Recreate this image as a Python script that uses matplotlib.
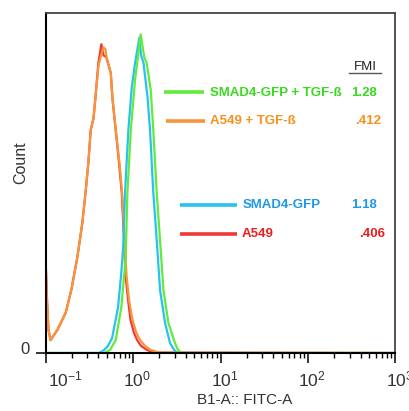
import matplotlib
matplotlib.use('Agg')
import matplotlib.pyplot as plt
import matplotlib.transforms as mtransforms
import numpy as np

plt.rcParams['font.family'] = ['Liberation Sans', 'DejaVu Sans']
plt.rcParams['mathtext.fontset'] = 'custom'
plt.rcParams['mathtext.rm'] = 'Liberation Sans'
plt.rcParams['mathtext.it'] = 'Liberation Sans:italic'
plt.rcParams['mathtext.bf'] = 'Liberation Sans:bold'

# histogram traces (FITC intensity, count in % of max)
red_x = [0.100, 0.1035, 0.1076, 0.1135, 0.136, 0.169, 0.196, 0.230, 0.262, 0.287,
         0.307, 0.327, 0.352, 0.368, 0.400, 0.433, 0.458, 0.493, 0.555, 0.578,
         0.632, 0.690, 0.741, 0.787, 0.818, 0.875, 0.933, 1.023, 1.11, 1.23,
         1.44, 1.69, 1000]
red_y = [26.5, 15.6, 6.8, 3.8, 6.8, 11.8, 18.5, 28.2, 38.2, 47.9,
         55.9, 65.6, 69.1, 74.4, 85.3, 90.9, 87.6, 87.1, 82.4, 75.3,
         65.6, 55.9, 47.1, 33.2, 22.9, 15.6, 9.7, 5.9, 3.8, 2.1,
         0.9, 0.15, 0]

orange_x = [0.100, 0.1035, 0.1076, 0.1135, 0.136, 0.169, 0.196, 0.230, 0.262, 0.287,
            0.307, 0.327, 0.352, 0.368, 0.402, 0.430, 0.458, 0.483, 0.496, 0.555,
            0.578, 0.632, 0.698, 0.747, 0.798, 0.839, 0.897, 0.971, 1.08, 1.20,
            1.37, 1.56, 1.88, 2.31, 1000]
orange_y = [26.5, 15.6, 6.8, 3.8, 6.8, 11.8, 18.5, 28.2, 38.2, 47.9,
            55.9, 65.6, 69.1, 74.4, 84.7, 87.6, 90.0, 89.4, 87.1, 82.4,
            75.3, 65.6, 55.9, 47.1, 33.2, 22.9, 15.6, 10.3, 6.2, 3.8,
            2.1, 1.0, 0.3, 0, 0]

blue_x = [0.100, 0.407, 0.465, 0.516, 0.574, 0.672, 0.736, 0.776, 0.807, 0.881,
          0.964, 1.05, 1.18, 1.23, 1.31, 1.46, 1.56, 1.70, 1.86, 2.03,
          2.32, 2.64, 2.94, 3.18, 1000]
blue_y = [0, 0, 0.9, 2.1, 4.4, 13.5, 24.4, 33.2, 47.1, 65.6,
          78.2, 85.3, 92.9, 87.6, 85.6, 75.3, 65.6, 47.1, 33.2, 18.5,
          8.8, 2.9, 0.9, 0, 0]

green_x = [0.100, 0.465, 0.545, 0.632, 0.733, 0.822, 0.859, 0.940, 1.05, 1.22,
           1.34, 1.43, 1.59, 1.70, 1.86, 2.03, 2.22, 2.53, 3.01, 3.26,
           3.63, 1000]
green_y = [0, 0, 0.9, 3.8, 13.5, 28.2, 47.1, 65.6, 80.3, 93.8,
           87.1, 85.3, 77.4, 65.6, 47.1, 33.2, 18.5, 8.8, 2.9, 0.9,
           0, 0]

legend_names = ['SMAD4-GFP + TGF-ß', 'A549 + TGF-ß', 'SMAD4-GFP', 'A549']
legend_fmi = ['1.28', '.412', '1.18', '.406']

x_ticks = [0.1, 1, 10, 100, 1000]
x_tick_labels = [r'$\mathregular{10^{-1}}$', r'$\mathregular{10^{0}}$',
                 r'$\mathregular{10^{1}}$', r'$\mathregular{10^{2}}$',
                 r'$\mathregular{10^{3}}$']

c_red, c_orange, c_blue, c_green = '#f03838', '#f7953c', '#26c3ef', '#62ea3c'
t_red, t_orange, t_blue, t_green = '#ee1c1c', '#f5921e', '#1e98e6', '#3ad81e'

fig = plt.figure(figsize=(4.10, 4.11), dpi=100)
ax = fig.add_axes([0.1115, 0.1411, 0.8531, 0.8265])

ax.plot(red_x, red_y, color=c_red, lw=1.6)
ax.plot(orange_x, orange_y, color=c_orange, lw=1.6)
ax.plot(blue_x, blue_y, color=c_blue, lw=1.6)
ax.plot(green_x, green_y, color=c_green, lw=1.6)

ax.set_xscale('log')
ax.set_xlim(0.1, 1000)
ax.set_ylim(0, 100)

ax.set_xticks(x_ticks)
ax.set_xticklabels(x_tick_labels, fontsize=12.5, color='#333333')
ax.set_yticks([0])
ax.set_yticklabels(['0'], fontsize=12, color='#333333')
ax.tick_params(axis='x', which='major', length=7.2, width=1.1, pad=4.5)
ax.tick_params(axis='x', which='minor', length=3.6, width=1.0)
ax.tick_params(axis='y', which='major', length=7.2, width=1.1, pad=4.5)

# shift the exponent labels so the "10" sits over the tick
offsets = [20, 4, 4, 4, 4]
for lab, dx in zip(ax.get_xticklabels(), offsets):
    lab.set_transform(lab.get_transform() +
                      mtransforms.ScaledTranslation(dx / 100, 0, fig.dpi_scale_trans))
for lab in ax.get_yticklabels():
    lab.set_transform(lab.get_transform() +
                      mtransforms.ScaledTranslation(0, 5 / 100, fig.dpi_scale_trans))

for s in ['left', 'bottom']:
    ax.spines[s].set_color('black')
    ax.spines[s].set_linewidth(1.5)
for s in ['top', 'right']:
    ax.spines[s].set_color('#444444')
    ax.spines[s].set_linewidth(1.3)

ax.set_ylabel('Count', fontsize=11.5, color='#333333')
ax.yaxis.set_label_coords(-0.051, 0.56)
ax.set_xlabel('B1-A:: FITC-A', fontsize=11, color='#333333')
ax.xaxis.set_label_coords(0.57, -0.118)

# legend block
line_pos = [(0.338, 0.453, 0.768), (0.344, 0.455, 0.683),
            (0.384, 0.547, 0.436), (0.384, 0.547, 0.350)]
text_pos = [(0.470, 0.947, 0.766), (0.470, 0.959, 0.684),
            (0.564, 0.947, 0.436), (0.561, 0.970, 0.350)]
line_cols = [c_green, c_orange, c_blue, c_red]
text_cols = [t_green, t_orange, t_blue, t_red]
for (x0, x1, yy), (tx, fx, ty), lc, tc, name, fmi in zip(
        line_pos, text_pos, line_cols, text_cols, legend_names, legend_fmi):
    ax.plot([x0, x1], [yy, yy], color=lc, lw=2.6, transform=ax.transAxes,
            solid_capstyle='butt')
    ax.text(tx, ty, name, color=tc, fontsize=9.5, fontweight='bold',
            transform=ax.transAxes, ha='left', va='center')
    ax.text(fx, ty, fmi, color=tc, fontsize=9.5, fontweight='bold',
            transform=ax.transAxes, ha='right', va='center')

ax.text(0.914, 0.843, 'FMI', color='#222222', fontsize=9.5,
        transform=ax.transAxes, ha='center', va='center')
ax.plot([0.868, 0.959], [0.825, 0.825], color='#555555', lw=1.0,
        transform=ax.transAxes)

fig.savefig('out.png', dpi=100)
